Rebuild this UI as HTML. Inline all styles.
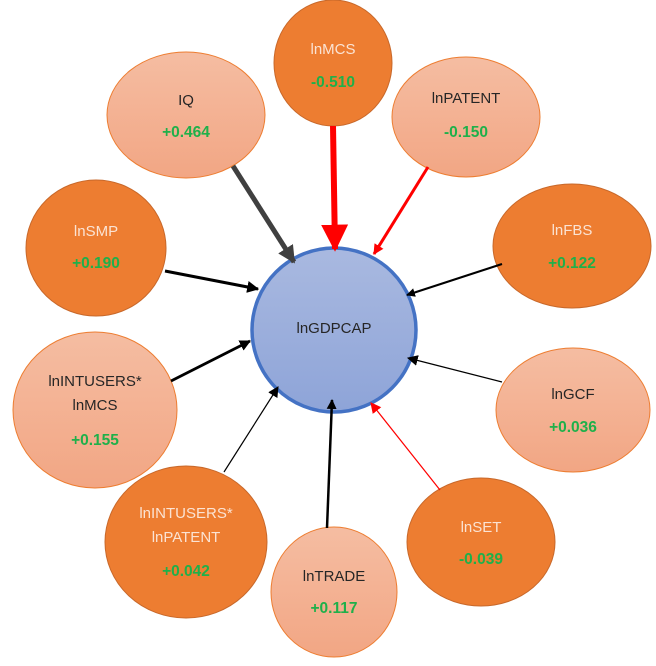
<!DOCTYPE html>
<html><head><meta charset="utf-8"><style>
html,body{margin:0;padding:0;background:#fff;}
svg text{font-family:"Liberation Sans",sans-serif;font-size:15px;text-anchor:middle;}
.v{fill:#1fb04a;font-weight:bold;font-size:15.5px;}
.d{fill:#fbe3d3;}
.l{fill:#262626;}
</style></head><body>
<svg width="656" height="661" viewBox="0 0 656 661" xmlns="http://www.w3.org/2000/svg">
<defs>
<linearGradient id="lg" x1="0" y1="0" x2="0" y2="1"><stop offset="0" stop-color="#f5bda2"/><stop offset="1" stop-color="#f2a684"/></linearGradient>
<linearGradient id="bg" x1="0" y1="0" x2="0" y2="1"><stop offset="0" stop-color="#a9b9e0"/><stop offset="1" stop-color="#8ea4d8"/></linearGradient>
<marker id="ak" viewBox="0 0 10 10" refX="9" refY="5" markerWidth="4" markerHeight="4" orient="auto" markerUnits="strokeWidth"><path d="M0,0L10,5L0,10z" fill="#000"/></marker>
<marker id="ak1" viewBox="0 0 10 10" refX="9" refY="5" markerWidth="9" markerHeight="9" orient="auto" markerUnits="strokeWidth"><path d="M0,0L10,5L0,10z" fill="#000"/></marker>
<marker id="ag" viewBox="0 0 10 10" refX="9" refY="5" markerWidth="3.5" markerHeight="3.5" orient="auto" markerUnits="strokeWidth"><path d="M0,0L10,5L0,10z" fill="#404040"/></marker>
<marker id="ar" viewBox="0 0 10 10" refX="9" refY="5" markerWidth="3.5" markerHeight="3.5" orient="auto" markerUnits="strokeWidth"><path d="M0,0L10,5L0,10z" fill="#f00"/></marker>
<marker id="ar2" viewBox="0 0 10 10" refX="9" refY="5" markerWidth="4.5" markerHeight="4.5" orient="auto" markerUnits="strokeWidth"><path d="M0,0L10,5L0,10z" fill="#f00"/></marker>
<marker id="ar1" viewBox="0 0 10 10" refX="9" refY="5" markerWidth="9" markerHeight="9" orient="auto" markerUnits="strokeWidth"><path d="M0,0L10,5L0,10z" fill="#f00"/></marker>
</defs>
<g fill="#ed7d31" stroke="#c8682a" stroke-width="1">
<ellipse cx="333" cy="63" rx="59" ry="63"/>
<ellipse cx="96" cy="248" rx="70" ry="68"/>
<ellipse cx="572" cy="246" rx="79" ry="62"/>
<ellipse cx="186" cy="542" rx="81" ry="76"/>
<ellipse cx="481" cy="542" rx="74" ry="64"/>
</g>
<g fill="url(#lg)" stroke="#ed7d31" stroke-width="1">
<ellipse cx="466" cy="117" rx="74" ry="60"/>
<ellipse cx="186" cy="115" rx="79" ry="63"/>
<ellipse cx="95" cy="410" rx="82" ry="78"/>
<ellipse cx="573" cy="410" rx="77" ry="62"/>
<ellipse cx="334" cy="592" rx="63" ry="65"/>
</g>
<circle cx="334" cy="330" r="82" fill="url(#bg)" stroke="#4472c4" stroke-width="3.5"/>
<line x1="333" y1="126" x2="335" y2="249" stroke="#f00" stroke-width="6" marker-end="url(#ar2)"/>
<line x1="428" y1="167" x2="374" y2="254" stroke="#f00" stroke-width="3" marker-end="url(#ar)"/>
<line x1="233" y1="166" x2="294" y2="262" stroke="#404040" stroke-width="5" marker-end="url(#ag)"/>
<line x1="165" y1="271" x2="258" y2="289" stroke="#000" stroke-width="3" marker-end="url(#ak)"/>
<line x1="502" y1="264" x2="407" y2="295" stroke="#000" stroke-width="2.2" marker-end="url(#ak)"/>
<line x1="171" y1="381" x2="250" y2="341" stroke="#000" stroke-width="2.8" marker-end="url(#ak)"/>
<line x1="502" y1="382" x2="408" y2="358" stroke="#000" stroke-width="1.2" marker-end="url(#ak1)"/>
<line x1="224" y1="472" x2="278" y2="387" stroke="#000" stroke-width="1.2" marker-end="url(#ak1)"/>
<line x1="327" y1="528" x2="332" y2="400" stroke="#000" stroke-width="2.5" marker-end="url(#ak)"/>
<line x1="440" y1="490" x2="371" y2="403" stroke="#f00" stroke-width="1.2" marker-end="url(#ar1)"/>
<text x="334" y="333" class="l" font-size="16">lnGDPCAP</text>
<text x="333" y="54" class="d">lnMCS</text><text x="333" y="87" class="v">-0.510</text>
<text x="466" y="103" class="l">lnPATENT</text><text x="466" y="137" class="v">-0.150</text>
<text x="186" y="105" class="l">IQ</text><text x="186" y="137" class="v">+0.464</text>
<text x="96" y="236" class="d">lnSMP</text><text x="96" y="268" class="v">+0.190</text>
<text x="572" y="235" class="d">lnFBS</text><text x="572" y="268" class="v">+0.122</text>
<text x="95" y="386" class="l">lnINTUSERS*</text><text x="95" y="410" class="l">lnMCS</text><text x="95" y="445" class="v">+0.155</text>
<text x="573" y="399" class="l">lnGCF</text><text x="573" y="432" class="v">+0.036</text>
<text x="186" y="518" class="d">lnINTUSERS*</text><text x="186" y="542" class="d">lnPATENT</text><text x="186" y="576" class="v">+0.042</text>
<text x="334" y="581" class="l">lnTRADE</text><text x="334" y="613" class="v">+0.117</text>
<text x="481" y="532" class="d">lnSET</text><text x="481" y="564" class="v">-0.039</text>
</svg>
</body></html>
